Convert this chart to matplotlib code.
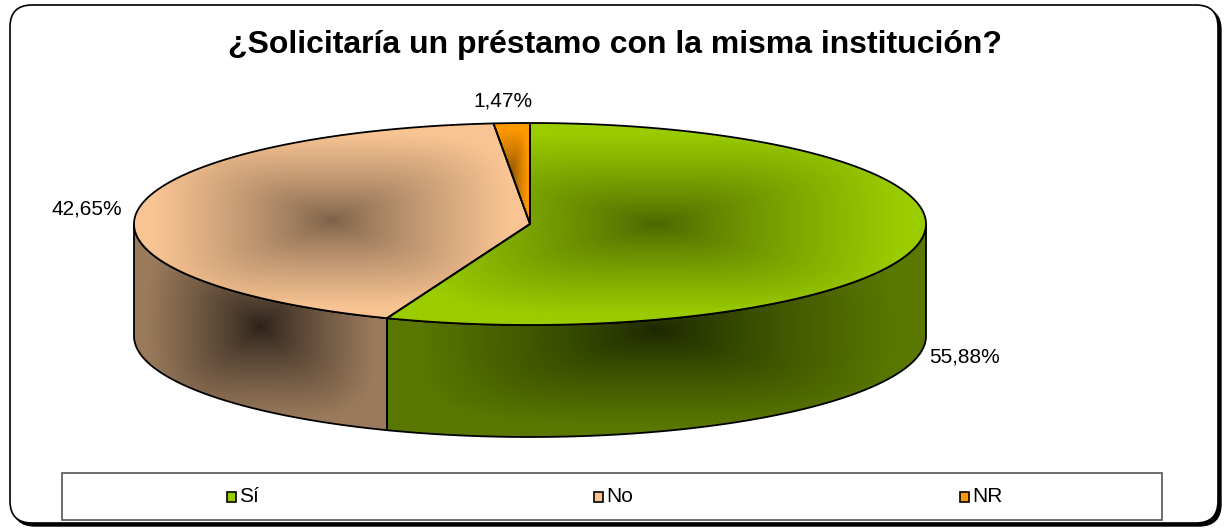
import numpy as np
import matplotlib.pyplot as plt
from matplotlib.patches import Polygon, FancyBboxPatch, Rectangle
from matplotlib.colors import to_rgb

plt.rcParams['font.family'] = ['Liberation Sans', 'DejaVu Sans']

title = "¿Solicitaría un préstamo con la misma institución?"
categories = ["Sí", "No", "NR"]
shares = [55.88, 42.65, 1.47]
pct_labels = ["55,88%", "42,65%", "1,47%"]

# colours: light edge / dark centre of the "from centre" gradient
top_light = ["#9ACC00", "#F9C493", "#FF9900"]
top_dark = ["#4A6400", "#7A6048", "#8A5000"]
side_light = ["#5A7800", "#9A7A5C", "#9A5C00"]
side_dark = ["#1C2600", "#2A2018", "#3A2000"]

# layout, in pixels
W, H = 1227, 528
cx, cy, rx, ry, depth = 530, 224, 396, 101, 112
label_pos = [(965, 357), (122, 209), (503, 101)]
label_ha = ["center", "right", "center"]


def arc(a0, a1, dy=0, n=300):
    th = np.radians(np.linspace(a0, a1, n))
    return np.column_stack([cx + rx * np.sin(th), cy - ry * np.cos(th) + dy])


def shade(ax, verts, light, dark, z):
    poly = Polygon(verts, closed=True, facecolor='none', edgecolor='black',
                   lw=1.3, zorder=z + 0.5, joinstyle='round')
    ax.add_patch(poly)
    x0, y0 = verts.min(axis=0)
    x1, y1 = verts.max(axis=0)
    X, Y = np.meshgrid(np.linspace(x0, x1, 240), np.linspace(y0, y1, 140))
    u = np.abs(X - (x0 + x1) / 2) / ((x1 - x0) / 2)
    v = np.abs(Y - (y0 + y1) / 2) / ((y1 - y0) / 2)
    t = (u ** 4 + v ** 4) ** 0.25
    s = np.clip(t / 0.9, 0, 1)
    s = s ** 0.8
    lo, hi = np.array(to_rgb(dark)), np.array(to_rgb(light))
    img = lo + (hi - lo) * s[..., None]
    im = ax.imshow(img, extent=[x0, x1, y1, y0], zorder=z,
                   interpolation='bilinear', aspect='auto')
    im.set_clip_path(poly)


fig = plt.figure(figsize=(W / 100, H / 100), dpi=100)
ax = fig.add_axes([0, 0, 1, 1])

# rounded frame with shadow
ax.add_patch(FancyBboxPatch((13, 8), 1208, 518, boxstyle="round,pad=0,rounding_size=22",
                            facecolor='black', edgecolor='black', lw=1, zorder=0))
ax.add_patch(FancyBboxPatch((10, 5), 1208, 518, boxstyle="round,pad=0,rounding_size=22",
                            facecolor='white', edgecolor='black', lw=1.2, zorder=0.5))

# slice angles, clockwise from 12 o'clock
edges = np.concatenate([[0], np.cumsum(shares)]) / sum(shares) * 360

for i in range(len(categories)):
    a0, a1 = edges[i], edges[i + 1]
    s0, s1 = max(a0, 90), min(a1, 270)
    if s1 > s0:
        verts = np.vstack([arc(s0, s1), arc(s1, s0, dy=depth)])
        shade(ax, verts, side_light[i], side_dark[i], 2)

for i in range(len(categories)):
    a0, a1 = edges[i], edges[i + 1]
    verts = np.vstack([[cx, cy], arc(a0, a1)])
    shade(ax, verts, top_light[i], top_dark[i], 3)

for i, lab in enumerate(pct_labels):
    ax.text(*label_pos[i], lab, fontsize=15, ha=label_ha[i], va='center', zorder=5)

ax.text(W / 2 + 2, 45, title, fontsize=23, fontweight='bold', ha='center', va='center')

# legend
lx0, ly0, lw, lh = 62, 473, 1100, 47
ax.add_patch(Rectangle((lx0, ly0), lw, lh, facecolor='white', edgecolor='#555555',
                       lw=1.2, zorder=4))
for i, cat in enumerate(categories):
    mx = lx0 + (i + 0.5) * lw / len(categories) - 14
    my = ly0 + lh / 2
    ax.add_patch(Rectangle((mx - 4.5, my - 5), 9, 10, facecolor=top_light[i],
                           edgecolor='black', lw=1.2, zorder=5))
    ax.text(mx + 8, my, cat, fontsize=15, ha='left', va='center', zorder=5)

ax.set_xlim(0, W)
ax.set_ylim(H, 0)
ax.axis('off')
fig.savefig("out.png", dpi=100)
